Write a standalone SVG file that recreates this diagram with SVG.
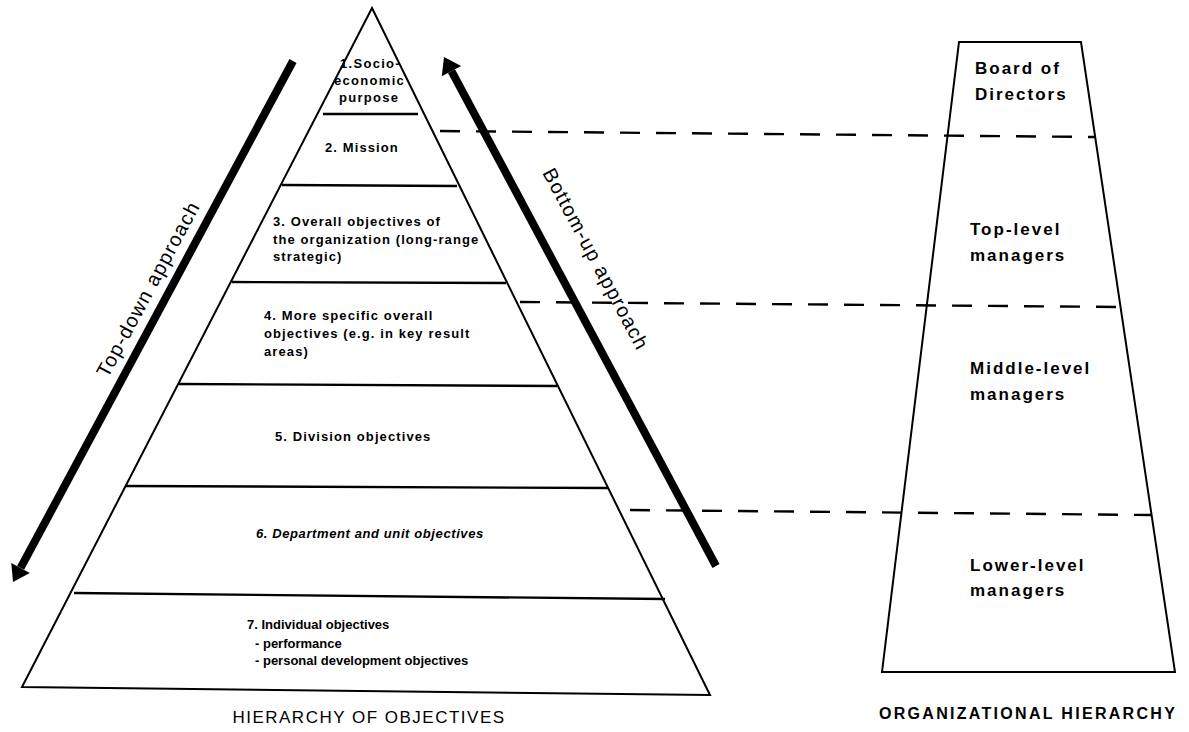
<svg xmlns="http://www.w3.org/2000/svg" width="1189" height="732" viewBox="0 0 1189 732">
<style>
.edge{fill:none;stroke:#000;stroke-width:2;stroke-linejoin:miter}
.lvl{stroke:#000;stroke-width:2.4;fill:none}
.dash{stroke:#000;stroke-width:2.4;stroke-dasharray:20 16;fill:none}
.shaft{stroke:#000;stroke-width:8;fill:none}
.head{fill:#000;stroke:none}
.t{font-family:"Liberation Sans",Arial,sans-serif;font-weight:bold;font-size:13px;fill:#000;letter-spacing:1.1px}
.t1{letter-spacing:1.3px}
.t6{font-style:italic;letter-spacing:0.6px}
.t7{letter-spacing:0px}
.r{font-family:"Liberation Sans",Arial,sans-serif;font-weight:bold;font-size:17px;fill:#000;letter-spacing:2px}
.cap{font-family:"Liberation Sans",Arial,sans-serif;fill:#000}
.ap{font-family:"Liberation Sans",Arial,sans-serif;font-size:20px;fill:#000;letter-spacing:1.2px;text-anchor:middle}
</style>
<rect width="1189" height="732" fill="#fff"/>

<g id="pyramid">
  <polygon class="edge" points="372,8 710,695 22,687"/>
  <line class="lvl" x1="323" y1="114" x2="418" y2="114"/>
  <line class="lvl" x1="282" y1="185" x2="457" y2="186"/>
  <line class="lvl" x1="232" y1="282" x2="506" y2="283"/>
  <line class="lvl" x1="179" y1="384" x2="557" y2="386"/>
  <line class="lvl" x1="126" y1="486" x2="608" y2="488"/>
  <line class="lvl" x1="74" y1="593" x2="665" y2="599"/>
</g>

<g id="level1">
  <text class="t t1" x="340" y="67.5">1.Socio-</text>
  <text class="t t1" x="334" y="85">economic</text>
  <text class="t t1" x="339" y="102">purpose</text>
</g>
<g id="level2">
  <text class="t" x="325" y="151.5">2. Mission</text>
</g>
<g id="level3">
  <text class="t" x="273" y="226">3. Overall objectives of</text>
  <text class="t" x="273" y="243.5">the organization (long-range</text>
  <text class="t" x="273" y="261">strategic)</text>
</g>
<g id="level4">
  <text class="t" x="264" y="319.5">4. More specific overall</text>
  <text class="t" x="264" y="338">objectives (e.g. in key result</text>
  <text class="t" x="264" y="356">areas)</text>
</g>
<g id="level5">
  <text class="t" x="275" y="441">5. Division objectives</text>
</g>
<g id="level6">
  <text class="t t6" x="256" y="538">6. Department and unit objectives</text>
</g>
<g id="level7">
  <text class="t t7" x="247" y="628.5">7. Individual objectives</text>
  <text class="t t7" x="255" y="647.5">- performance</text>
  <text class="t t7" x="255" y="664.5">- personal development objectives</text>
</g>
<g id="title-objectives">
  <text class="cap" x="369" y="723" font-size="17" letter-spacing="1.5" text-anchor="middle">HIERARCHY OF OBJECTIVES</text>
</g>

<g id="org-hierarchy">
  <polygon class="edge" points="959,42 1081,42 1175,672 882,672"/>
</g>
<g id="board">
  <text class="r" x="975" y="74">Board of</text>
  <text class="r" x="975" y="100">Directors</text>
</g>
<g id="top-level">
  <text class="r" x="970" y="235">Top-level</text>
  <text class="r" x="970" y="261">managers</text>
</g>
<g id="middle-level">
  <text class="r" x="970" y="374">Middle-level</text>
  <text class="r" x="970" y="400">managers</text>
</g>
<g id="lower-level">
  <text class="r" x="970" y="571">Lower-level</text>
  <text class="r" x="970" y="596">managers</text>
</g>
<g id="title-org">
  <text class="cap" x="879" y="719" font-size="16" font-weight="bold" letter-spacing="2.3">ORGANIZATIONAL HIERARCHY</text>
</g>

<g id="connectors">
  <line class="dash" x1="440" y1="131" x2="1095" y2="137"/>
  <line class="dash" x1="520" y1="302" x2="1120" y2="307"/>
  <line class="dash" x1="630" y1="510" x2="1151" y2="515"/>

  <line class="shaft" x1="293" y1="61" x2="20.6" y2="567.9"/>
  <polygon class="head" points="13,582 29.8,572.9 11.3,562.9"/>
  <line class="shaft" x1="716" y1="566" x2="451.5" y2="71.1"/>
  <polygon class="head" points="444,57 461.2,65.9 441.8,76.3"/>

  <text class="ap" transform="translate(148,289) rotate(-61.8)" x="0" y="7">Top-down approach</text>
  <text class="ap" transform="translate(596,259) rotate(61.9)" x="0" y="7" letter-spacing="1.8">Bottom-up approach</text>
</g>
</svg>
